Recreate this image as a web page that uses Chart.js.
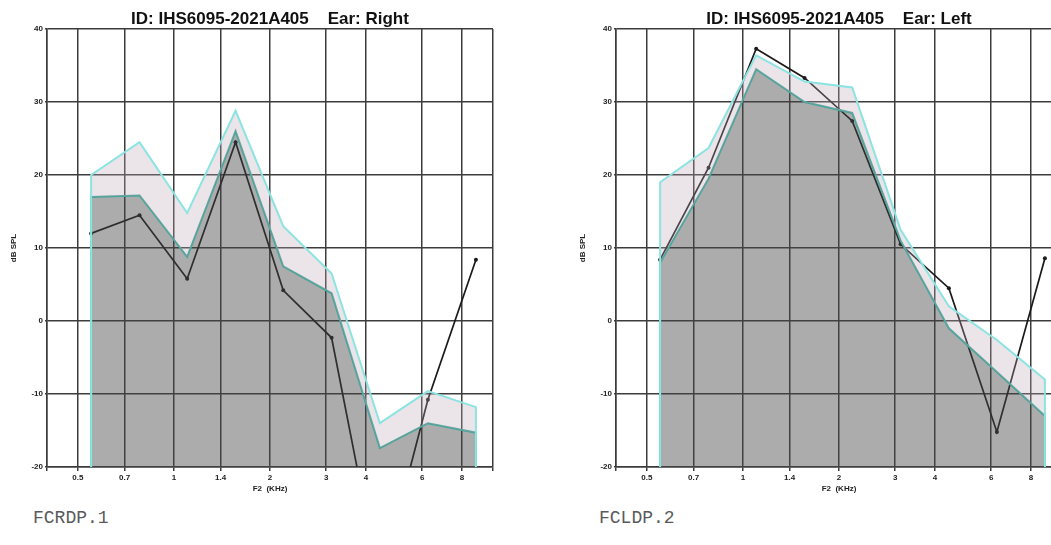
<!DOCTYPE html>
<html>
<head>
<meta charset="utf-8">
<script src="https://cdn.jsdelivr.net/npm/chart.js@4.4.1/dist/chart.umd.min.js"></script>
<style>
  html, body { margin: 0; padding: 0; background: #fff; }
  body { width: 1051px; height: 545px; overflow: hidden; position: relative; }
  canvas { position: absolute; top: 0; }
  #chartRight { left: 0; }
  #chartLeft { left: 569px; }
  .tag { position: absolute; top: 508px; font-family: "Liberation Mono", "DejaVu Sans Mono", monospace; font-size: 18px; color: #5a5a5a; }
</style>
</head>
<body>
<canvas id="chartRight" width="540" height="500"></canvas>
<canvas id="chartLeft" width="540" height="500"></canvas>
<div class="tag" style="left:33px">FCRDP.1</div>
<div class="tag" style="left:599px">FCLDP.2</div>
<script>
// F2 frequencies (kHz) of the measured points
const freqs = [0.55, 0.78, 1.1, 1.56, 2.2, 3.12, 4.42, 6.25, 8.84];

// right ear
const rightUpper = [20, 24.5, 14.8, 28.8, 13, 6.5, -14, -9.6, -11.8];
const rightLower = [17, 17.2, 8.8, 26, 7.5, 3.8, -17.4, -14, -15.3];
const rightDp = [12, 14.5, 5.8, 24.5, 4.2, -2.3, -36, -10.8, 8.4];

// left ear
const leftUpper = [19, 23.7, 36.4, 32.8, 32, 12.5, 2, -2.6, -8];
const leftLower = [8, 19.5, 34.5, 30, 28.5, 11, -1, -7, -13];
const leftDp = [8.4, 21, 37.3, 33.3, 27.4, 10.5, 4.5, -15.2, 8.6];

const xTickValues = [0.5, 0.7, 1, 1.4, 2, 3, 4, 6, 8];
const xTickLabels = ["0.5", "0.7", "1", "1.4", "2", "3", "4", "6", "8"];
const xMin = 0.4;
const xMax = 10;
const yMin = -20;
const yMax = 40;

const gridColor = "#3c3c3c";
const upperColor = "rgb(140, 228, 226)";
const lowerColor = "rgb(70, 165, 155)";
const bandFill = "rgba(190, 165, 180, 0.3)";
const floorFill = "rgba(70, 70, 70, 0.45)";

function bandData(vals) {
  const pts = freqs.map((f, i) => ({ x: f, y: vals[i] }));
  return [{ x: freqs[0], y: yMin }, ...pts, { x: freqs[freqs.length - 1], y: yMin }];
}

function makeChart(id, title, upper, lower, dp) {
  const ctx = document.getElementById(id);
  return new Chart(ctx, {
    type: "line",
    data: {
      datasets: [
        {
          label: "upper",
          data: bandData(upper),
          borderColor: upperColor,
          borderWidth: 2,
          backgroundColor: bandFill,
          fill: "+1",
          pointRadius: 0,
          tension: 0,
        },
        {
          label: "lower",
          data: bandData(lower),
          borderColor: lowerColor,
          borderWidth: 2,
          backgroundColor: floorFill,
          fill: { value: yMin },
          pointRadius: 0,
          tension: 0,
        },
        {
          label: "DP",
          data: freqs.map((f, i) => ({ x: f, y: dp[i] })),
          borderColor: "#1a1a1a",
          borderWidth: 1.7,
          pointRadius: 2,
          pointBackgroundColor: "#1a1a1a",
          pointBorderWidth: 0,
          fill: false,
          tension: 0,
        },
      ],
    },
    options: {
      responsive: false,
      animation: false,
      layout: { padding: 0 },
      plugins: {
        legend: { display: false },
        tooltip: { enabled: false },
        title: {
          display: true,
          text: title,
          color: "#111",
          font: { family: "Liberation Sans, Arial", size: 17, weight: "bold", lineHeight: 1 },
          padding: { top: 11, bottom: 1 },
        },
      },
      scales: {
        x: {
          type: "logarithmic",
          min: xMin,
          max: xMax,
          afterBuildTicks: (scale) => {
            scale.ticks = [xMin, ...xTickValues, xMax].map((v) => ({ value: v }));
          },
          afterFit: (scale) => { scale.height = 33; },
          ticks: {
            autoSkip: false,
            maxRotation: 0,
            padding: 2,
            color: "#222",
            font: { family: "Liberation Sans, Arial", size: 8, weight: "bold" },
            callback: (value) => {
              const i = xTickValues.indexOf(value);
              return i >= 0 ? xTickLabels[i] : "";
            },
          },
          grid: { color: gridColor, lineWidth: 1.5, tickLength: 4 },
          border: { color: gridColor, width: 1.5 },
          title: {
            display: true,
            text: "F2  (KHz)",
            color: "#222",
            font: { family: "Liberation Sans, Arial", size: 8, weight: "bold" },
            padding: { top: 2, bottom: 6 },
          },
        },
        y: {
          min: yMin,
          max: yMax,
          afterFit: (scale) => { scale.width = 47; },
          ticks: {
            stepSize: 10,
            padding: 2,
            color: "#222",
            font: { family: "Liberation Sans, Arial", size: 8, weight: "bold" },
          },
          grid: { color: gridColor, lineWidth: 1.5, tickLength: 2 },
          border: { color: gridColor, width: 1.5 },
          title: {
            display: true,
            text: "dB SPL",
            color: "#222",
            font: { family: "Liberation Sans, Arial", size: 8, weight: "bold" },
            padding: { top: 9, bottom: 0 },
          },
        },
        // empty right axis so the plot box sits centred under the title
        yRight: {
          position: "right",
          min: yMin,
          max: yMax,
          afterFit: (scale) => { scale.width = 47; },
          ticks: { display: false },
          grid: { display: false },
          border: { display: false },
        },
      },
    },
  });
}

makeChart("chartRight", "ID: IHS6095-2021A405    Ear: Right", rightUpper, rightLower, rightDp);
makeChart("chartLeft", "ID: IHS6095-2021A405    Ear: Left", leftUpper, leftLower, leftDp);
</script>
</body>
</html>
